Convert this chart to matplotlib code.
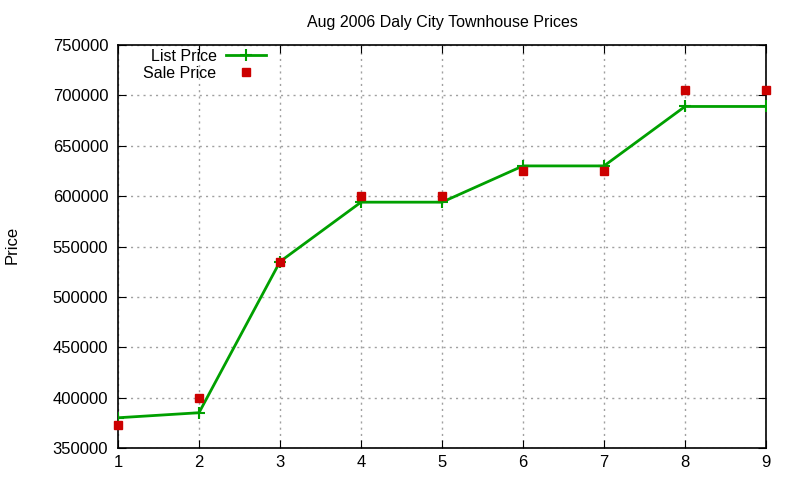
import matplotlib
matplotlib.use("Agg")
import matplotlib.pyplot as plt

x = [1, 2, 3, 4, 5, 6, 7, 8, 9]
list_price = [380000, 385000, 535000, 594000, 594000, 630000, 630000, 689000, 689000]
sale_price = [372500, 400000, 535000, 600000, 600000, 625000, 625000, 705000, 705000]
yticks = [350000, 400000, 450000, 500000, 550000, 600000, 650000, 700000, 750000]

plt.rcParams['font.family'] = ['Liberation Sans', 'DejaVu Sans']
fig = plt.figure(figsize=(8, 4.8), dpi=100)
ax = fig.add_axes([0.1475, 0.0667, 0.81, 0.8395])

ax.plot(x, list_price, color='#00a000', lw=2, marker='+', ms=9, mew=1.5, label='List Price', zorder=3)
ax.plot(x, sale_price, ls='none', color='#cc0000', marker='s', ms=6, label='Sale Price', zorder=4, clip_on=False)

ax.set_xlim(1, 9)
ax.set_ylim(350000, 750000)
ax.set_xticks(x)
ax.set_yticks(yticks)
ax.set_yticklabels([str(v) for v in yticks])
ax.tick_params(direction='in', top=True, right=True, labelsize=12, length=6, pad=5)
ax.tick_params(axis='y', pad=7)
ax.grid(True, color='#a0a0a0', ls=(0, (1.5, 3)), lw=1)
for s in ax.spines.values():
    s.set_linewidth(1.2)

ax.set_title('Aug 2006 Daly City Townhouse Prices', fontsize=11.5, pad=13)
fig.text(0.015, 0.49, 'Price', rotation=90, fontsize=12, va='center', ha='center')

leg = ax.legend(loc='upper left', bbox_to_anchor=(0.022, 1.019), frameon=False, markerfirst=False,
                fontsize=11.5, handlelength=2.5, labelspacing=0.15, borderpad=0.2, handletextpad=0.6)
for t in leg.get_texts():
    t.set_ha('right')

fig.savefig('out.png', dpi=100)
